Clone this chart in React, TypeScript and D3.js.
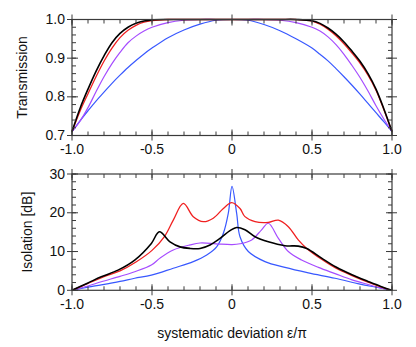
import React, { useRef, useEffect } from 'react'
import * as d3 from 'd3'

// x positions shared by the transmission curves (systematic deviation eps/pi)
const transEps = [-1, -0.95, -0.9, -0.85, -0.8, -0.75, -0.7, -0.65, -0.6, -0.55, -0.5, -0.4, -0.3, -0.2, -0.1, 0,
  0.1, 0.2, 0.3, 0.4, 0.5, 0.55, 0.6, 0.65, 0.7, 0.75, 0.8, 0.85, 0.9, 0.95, 1]

const transBlack = [0.71, 0.77, 0.82, 0.866, 0.906, 0.94, 0.964, 0.98, 0.99, 0.996, 0.999, 1, 1, 1, 1, 1,
  1, 1, 1, 1, 0.997, 0.99, 0.978, 0.962, 0.942, 0.918, 0.892, 0.86, 0.82, 0.768, 0.71]
const transRed = [0.71, 0.763, 0.808, 0.852, 0.892, 0.926, 0.953, 0.972, 0.985, 0.993, 0.997, 1, 1, 1, 1, 1,
  1, 1, 1, 1, 0.996, 0.988, 0.975, 0.958, 0.937, 0.913, 0.887, 0.856, 0.817, 0.766, 0.71]
const transPurple = [0.71, 0.737, 0.772, 0.813, 0.852, 0.886, 0.915, 0.94, 0.957, 0.97, 0.98, 0.992, 0.998, 1, 1, 1,
  1, 1, 0.998, 0.992, 0.98, 0.97, 0.955, 0.935, 0.91, 0.881, 0.85, 0.815, 0.777, 0.742, 0.71]
const transBlue = [0.71, 0.738, 0.764, 0.789, 0.812, 0.835, 0.856, 0.876, 0.894, 0.911, 0.926, 0.953, 0.973, 0.988, 0.998, 1,
  0.998, 0.987, 0.971, 0.95, 0.926, 0.91, 0.893, 0.873, 0.852, 0.83, 0.807, 0.783, 0.759, 0.735, 0.71]

// isolation curves: [eps/pi, dB]
const isoBlack: [number, number][] = [[-1, 0], [-0.9, 1.9], [-0.817, 3.5], [-0.7125, 5.2], [-0.608, 7.8], [-0.504, 12.1],
  [-0.454, 15.1], [-0.3875, 12.5], [-0.325, 11.2], [-0.2625, 10.8], [-0.2, 10.8], [-0.1375, 11.7], [-0.075, 13.4],
  [-0.0125, 15.4], [0.029, 16.2], [0.081, 15.6], [0.144, 13.8], [0.227, 12.5], [0.331, 11.5], [0.414, 11.4],
  [0.467, 10.8], [0.56, 8.3], [0.65, 6.0], [0.75, 4.0], [0.85, 2.3], [0.93, 1.0], [1, 0]]
const isoRed: [number, number][] = [[-1, 0], [-0.9, 1.8], [-0.8, 3.5], [-0.7, 5.0], [-0.6, 7.3], [-0.5, 10.3],
  [-0.42, 14.0], [-0.367, 18.1], [-0.304, 22.4], [-0.242, 19.0], [-0.179, 17.7], [-0.117, 18.6], [-0.054, 21.1],
  [-0.002, 22.6], [0.05, 21.1], [0.081, 19.0], [0.144, 17.7], [0.227, 17.5], [0.29, 18.1], [0.352, 16.4],
  [0.414, 13.0], [0.467, 10.8], [0.56, 8.0], [0.65, 5.7], [0.75, 3.8], [0.85, 2.1], [0.93, 0.9], [1, 0]]
const isoPurple: [number, number][] = [[-1, 0], [-0.9, 1.1], [-0.817, 2.2], [-0.7, 3.6], [-0.608, 4.8], [-0.504, 6.5],
  [-0.45, 8.3], [-0.367, 10.4], [-0.2625, 11.7], [-0.2, 12.2], [-0.1, 12.0], [0, 11.8], [0.05, 12.0], [0.123, 13.0],
  [0.185, 15.6], [0.227, 17.3], [0.29, 13.4], [0.352, 10.0], [0.435, 7.8], [0.54, 5.9], [0.644, 4.3], [0.75, 2.7],
  [0.85, 1.5], [0.93, 0.6], [1, 0]]
const isoBlue: [number, number][] = [[-1, 0], [-0.9, 0.8], [-0.817, 1.4], [-0.7, 2.3], [-0.608, 3.1], [-0.504, 3.9],
  [-0.367, 5.7], [-0.242, 7.4], [-0.158, 9.1], [-0.096, 11.2], [-0.054, 14.7], [-0.023, 19.9], [0, 26.8],
  [0.029, 19.9], [0.05, 13.8], [0.102, 10.0], [0.206, 7.4], [0.331, 5.9], [0.477, 4.5], [0.644, 3.1], [0.8, 1.6],
  [0.9, 0.8], [1, 0]]

const xMajor = [-1, -0.5, 0, 0.5, 1]
const xLabels = ['-1.0', '-0.5', '0', '0.5', '1.0']
const transTicks = [0.7, 0.8, 0.9, 1.0]
const isoTicks = [0, 10, 20, 30]

const colors = { black: '#000000', red: '#f02020', purple: '#a64cff', blue: '#3858ff' }

export default function App() {
  const svgRef = useRef<SVGSVGElement>(null)

  useEffect(() => {
    const width = 416
    const height = 347
    const left = 72
    const right = 392
    const font = '"Liberation Sans", Arial, Helvetica, sans-serif'
    const axisColor = '#3a3a3a'

    const svg = d3.select(svgRef.current)
    svg.selectAll('*').remove()
    svg.attr('viewBox', `0 0 ${width} ${height}`)

    const x = d3.scaleLinear().domain([-1, 1]).range([left, right])
    const xMinor = d3.range(-10, 11).map(i => i / 10)

    function panel(y: d3.ScaleLinear<number, number>, major: number[], minorStep: number, fmt: (d: number) => string, label: string, labelX: number) {
      const [y0, y1] = y.range()
      const g = svg.append('g')
      const [d0, d1] = y.domain()
      const yMinor = d3.range(Math.round((d1 - d0) / minorStep) + 1).map(i => d0 + i * minorStep)

      // minor ticks (inside)
      xMinor.forEach(v => {
        g.append('line').attr('x1', x(v)).attr('x2', x(v)).attr('y1', y0).attr('y2', y0 - 4)
        g.append('line').attr('x1', x(v)).attr('x2', x(v)).attr('y1', y1).attr('y2', y1 + 4)
      })
      yMinor.forEach(v => {
        g.append('line').attr('x1', left).attr('x2', left + 4).attr('y1', y(v)).attr('y2', y(v))
        g.append('line').attr('x1', right).attr('x2', right - 4).attr('y1', y(v)).attr('y2', y(v))
      })
      // major ticks (crossing the frame)
      xMajor.forEach(v => {
        g.append('line').attr('x1', x(v)).attr('x2', x(v)).attr('y1', y0 + 5).attr('y2', y0 - 6)
        g.append('line').attr('x1', x(v)).attr('x2', x(v)).attr('y1', y1 - 5).attr('y2', y1 + 6)
      })
      major.forEach(v => {
        g.append('line').attr('x1', left - 5).attr('x2', left + 6).attr('y1', y(v)).attr('y2', y(v))
        g.append('line').attr('x1', right + 5).attr('x2', right - 6).attr('y1', y(v)).attr('y2', y(v))
      })
      g.selectAll('line').attr('stroke', axisColor).attr('stroke-width', 1)

      g.append('rect')
        .attr('x', left).attr('y', y1).attr('width', right - left).attr('height', y0 - y1)
        .attr('fill', 'none').attr('stroke', axisColor).attr('stroke-width', 1.2)

      g.selectAll('text.xl').data(xMajor).join('text')
        .attr('x', d => x(d)).attr('y', y0 + 18.5)
        .attr('text-anchor', 'middle')
        .text((d, i) => xLabels[i])
      g.selectAll('text.yl').data(major).join('text')
        .attr('x', left - 7).attr('y', d => y(d) - 0.5)
        .attr('text-anchor', 'end').attr('dominant-baseline', 'central')
        .text(d => fmt(d))
      g.append('text')
        .attr('transform', `translate(${labelX},${(y0 + y1) / 2}) rotate(-90)`)
        .attr('text-anchor', 'middle').attr('dominant-baseline', 'central')
        .text(label)
      g.selectAll('text').attr('font-family', font).attr('font-size', 14).attr('fill', '#111')
    }

    const yT = d3.scaleLinear().domain([0.7, 1.0]).range([135.5, 19.5])
    const yI = d3.scaleLinear().domain([0, 30]).range([290.3, 174])

    const lineT = d3.line<number>()
      .x((d, i) => x(transEps[i]))
      .y(d => yT(Math.min(d, 1)))
      .curve(d3.curveCatmullRom.alpha(0.5))

    const tSeries: [number[], string, number][] = [
      [transBlue, colors.blue, 1.2],
      [transPurple, colors.purple, 1.2],
      [transRed, colors.red, 1.3],
      [transBlack, colors.black, 1.6],
    ]
    tSeries.forEach(([vals, c, w]) => {
      svg.append('path').datum(vals).attr('d', lineT)
        .attr('fill', 'none').attr('stroke', c).attr('stroke-width', w)
    })

    const lineI = d3.line<[number, number]>()
      .x(d => x(d[0]))
      .y(d => yI(d[1]))
      .curve(d3.curveCatmullRom.alpha(0.5))

    const iSeries: [[number, number][], string, number][] = [
      [isoBlue, colors.blue, 1.2],
      [isoPurple, colors.purple, 1.2],
      [isoRed, colors.red, 1.3],
      [isoBlack, colors.black, 1.6],
    ]
    iSeries.forEach(([vals, c, w]) => {
      svg.append('path').datum(vals).attr('d', lineI)
        .attr('fill', 'none').attr('stroke', c).attr('stroke-width', w)
    })

    panel(yT, transTicks, 0.02, d3.format('.1f'), 'Transmission', 22)
    panel(yI, isoTicks, 2, d => String(d), 'Isolation [dB]', 27)

    svg.append('text')
      .attr('x', 232).attr('y', 338)
      .attr('text-anchor', 'middle')
      .attr('font-family', font).attr('font-size', 14).attr('fill', '#111')
      .text('systematic deviation ε/π')
  }, [])

  return (
    <svg ref={svgRef} width={416} height={347}
      style={{ position: 'absolute', left: 0, top: 0, background: '#fff' }} />
  )
}
